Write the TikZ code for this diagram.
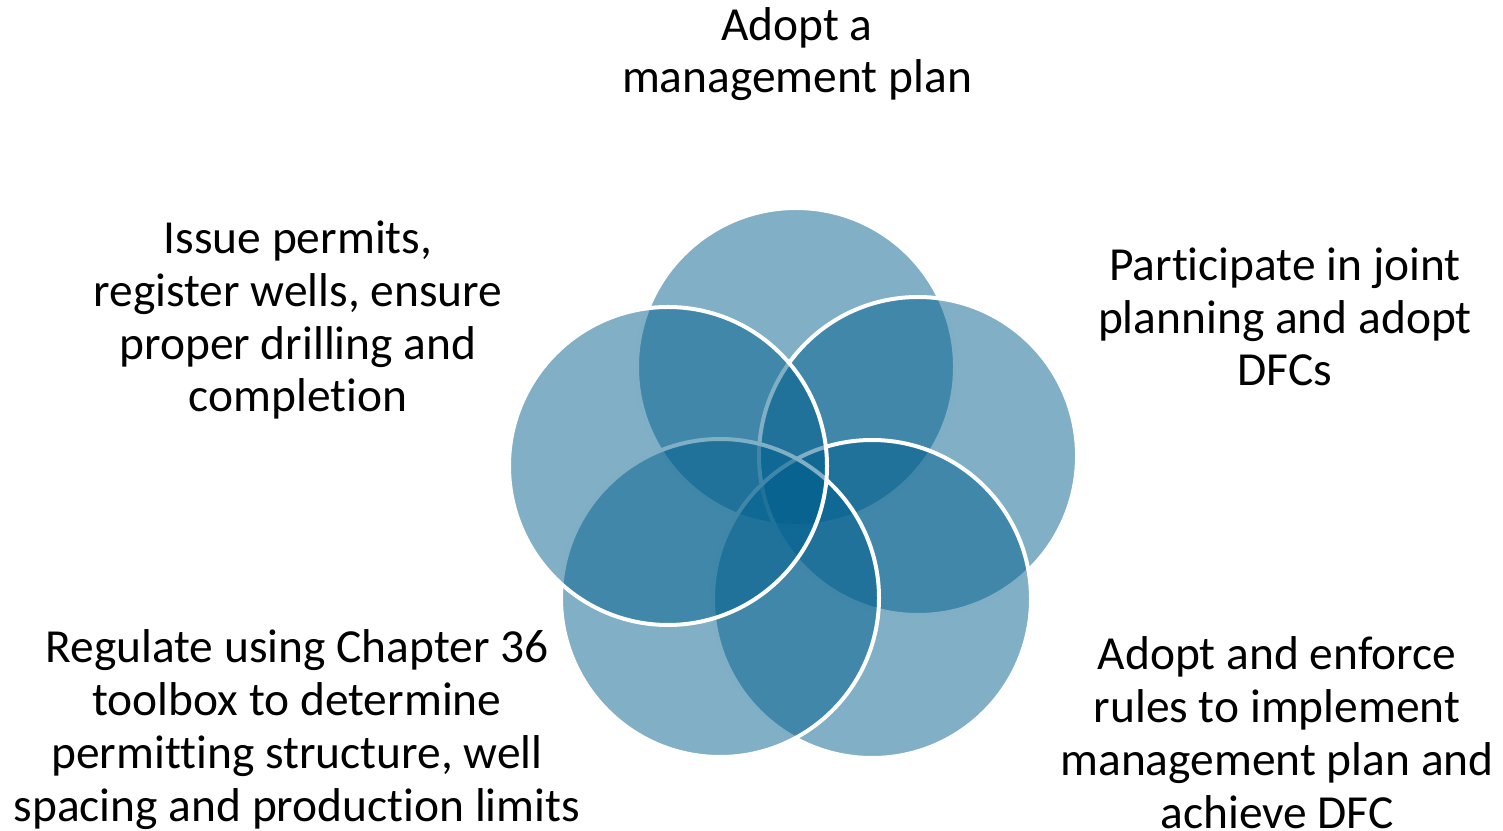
\documentclass[tikz,border=0pt]{standalone}
\usepackage{fontspec}
\setmainfont{Carlito}[Ligatures=NoCommon]
\definecolor{petalblue}{RGB}{1,95,141}
\begin{document}
\begin{tikzpicture}[
    petal/.style={circle, minimum size=6.36cm, inner sep=0pt,
      fill=petalblue, fill opacity=0.5, draw=white, line width=0.08cm},
    caption/.style={align=center, anchor=base,
      font=\fontsize{27}{30}\selectfont}
  ]
  \useasboundingbox (0,0) rectangle (30.06,16.6);
  % circles, drawn in this order
  \node[petal] (plan) at (15.92,9.26) {};
  \node[petal] (joint) at (18.36,7.48) {};
  \node[petal] (rules) at (17.44,4.62) {};
  \node[petal] (regulate) at (14.40,4.64) {};
  \node[petal] (permits) at (13.36,7.28) {};
  % labels, placed at the baseline of their last line
  \node[caption] (planlabel) at (15.94,14.74) {Adopt a\\management plan};
  \node[caption] (permitslabel) at (5.96,8.36)
    {Issue permits,\\register wells, ensure\\proper drilling and\\completion};
  \node[caption] (jointlabel) at (25.7,8.88)
    {Participate in joint\\planning and adopt\\DFCs};
  \node[caption] (regulatelabel) at (5.94,0.18)
    {Regulate using Chapter 36\\toolbox to determine\\permitting structure, well\\spacing and production limits};
  \node[caption] (ruleslabel) at (25.54,0.04)
    {Adopt and enforce\\rules to implement\\management plan and\\achieve DFC};
\end{tikzpicture}
\end{document}
